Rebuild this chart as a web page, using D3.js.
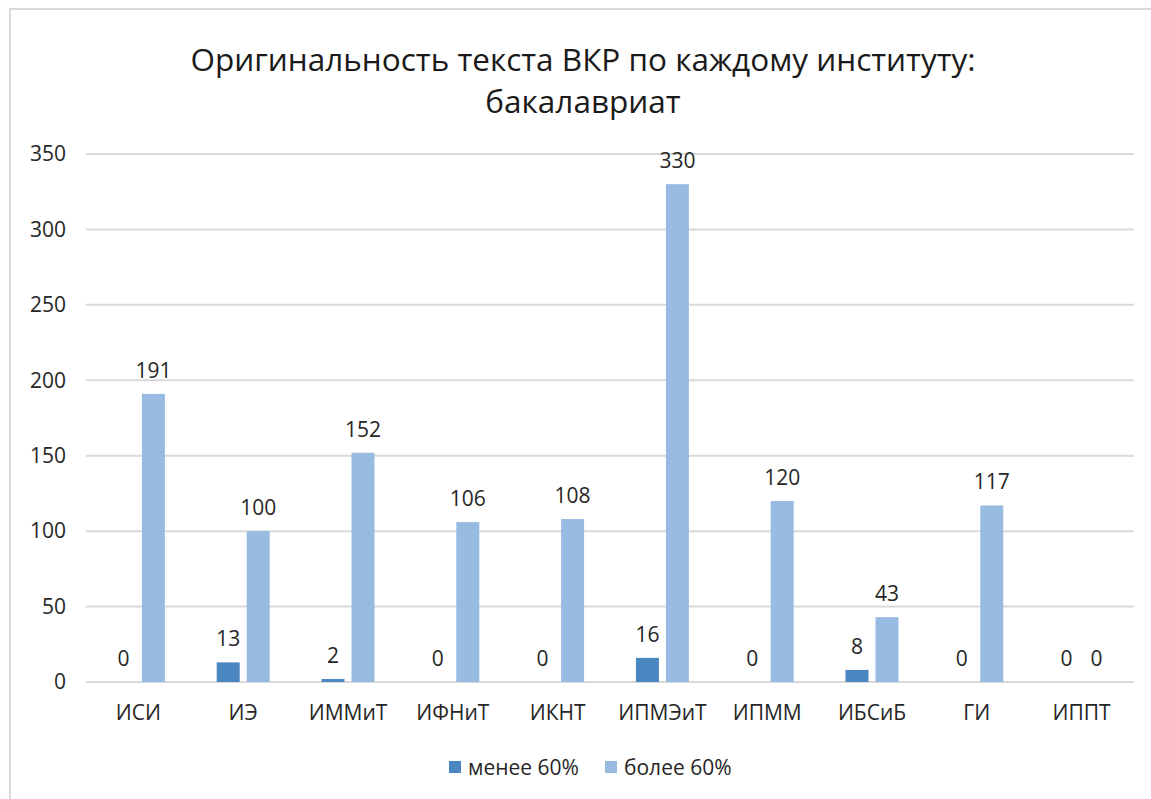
<!DOCTYPE html>
<html><head><meta charset="utf-8">
<script src="https://cdn.jsdelivr.net/npm/d3@7"></script>
<style>
html,body{margin:0;padding:0;background:#fff;}
svg{display:block;font-family:"Open Sans",sans-serif;}
</style></head>
<body>
<svg id="c" width="1151" height="799"></svg>
<script>
const titleLines = ["Оригинальность текста ВКР по каждому институту:", "бакалавриат"];
const categories = ["ИСИ","ИЭ","ИММиТ","ИФНиТ","ИКНТ","ИПМЭиТ","ИПММ","ИБСиБ","ГИ","ИППТ"];
const seriesNames = ["менее 60%","более 60%"];
const below60 = [0,13,2,0,0,16,0,8,0,0];
const above60 = [191,100,152,106,108,330,120,43,117,0];
const yTicks = [0,50,100,150,200,250,300,350];
const colors = ["#4a86c0","#98bbe2"];

const svg = d3.select("#c");
svg.append("rect").attr("x",10).attr("y",9).attr("width",1160).attr("height",820)
  .attr("fill","#fff").attr("stroke","#d9d9d9").attr("stroke-width",2);

const m = {left:86,right:1134,top:154,bottom:682};
const x = d3.scaleBand().domain(categories).range([m.left,m.right]).paddingInner(0).paddingOuter(0);
const y = d3.scaleLinear().domain([0,350]).range([m.bottom,m.top]);

// title
svg.append("g").selectAll("text").data(titleLines).join("text")
  .attr("x",583).attr("y",(d,i)=>71+i*42).attr("text-anchor","middle")
  .attr("font-size",31.5).attr("fill","#1a1a1a").text(d=>d);

// grid
svg.append("g").selectAll("line").data(yTicks).join("line")
  .attr("x1",m.left).attr("x2",m.right).attr("y1",d=>y(d)).attr("y2",d=>y(d))
  .attr("stroke","#d9d9d9").attr("stroke-width",2);

// y axis
const ya = svg.append("g").attr("transform",`translate(${m.left},0)`)
  .call(d3.axisLeft(y).tickValues(yTicks).tickSize(0).tickPadding(20));
ya.select(".domain").remove();
ya.selectAll("text").attr("font-size",21).attr("fill","#262626").attr("font-family","Open Sans, sans-serif");

// x axis
const xa = svg.append("g").attr("transform",`translate(0,${m.bottom})`)
  .call(d3.axisBottom(x).tickSize(0).tickPadding(23));
xa.select(".domain").remove();
xa.selectAll("text").attr("font-size",21).attr("fill","#262626").attr("font-family","Open Sans, sans-serif");

const barW = 23, gap = 7;
const series = [below60, above60];
const off = [-gap/2-barW, gap/2];
series.forEach((vals,si)=>{
  const g = svg.append("g");
  g.selectAll("rect").data(vals).join("rect")
    .attr("x",(d,i)=>x(categories[i])+x.bandwidth()/2+off[si])
    .attr("y",d=>y(d)).attr("width",barW).attr("height",d=>y(0)-y(d))
    .attr("fill",colors[si]);
  g.selectAll("text").data(vals).join("text")
    .attr("x",(d,i)=>x(categories[i])+x.bandwidth()/2+off[si]+barW/2)
    .attr("y",d=>y(d)-16).attr("text-anchor","middle")
    .attr("font-size",21).attr("fill","#262626").text(d=>d);
});

// legend
const lg = svg.append("g");
const lx = [449,605];
seriesNames.forEach((n,i)=>{
  lg.append("rect").attr("x",lx[i]).attr("y",761).attr("width",12).attr("height",12).attr("fill",colors[i]);
  lg.append("text").attr("x",lx[i]+19).attr("y",775).attr("font-size",21).attr("fill","#262626").text(n);
});
</script>
</body></html>
